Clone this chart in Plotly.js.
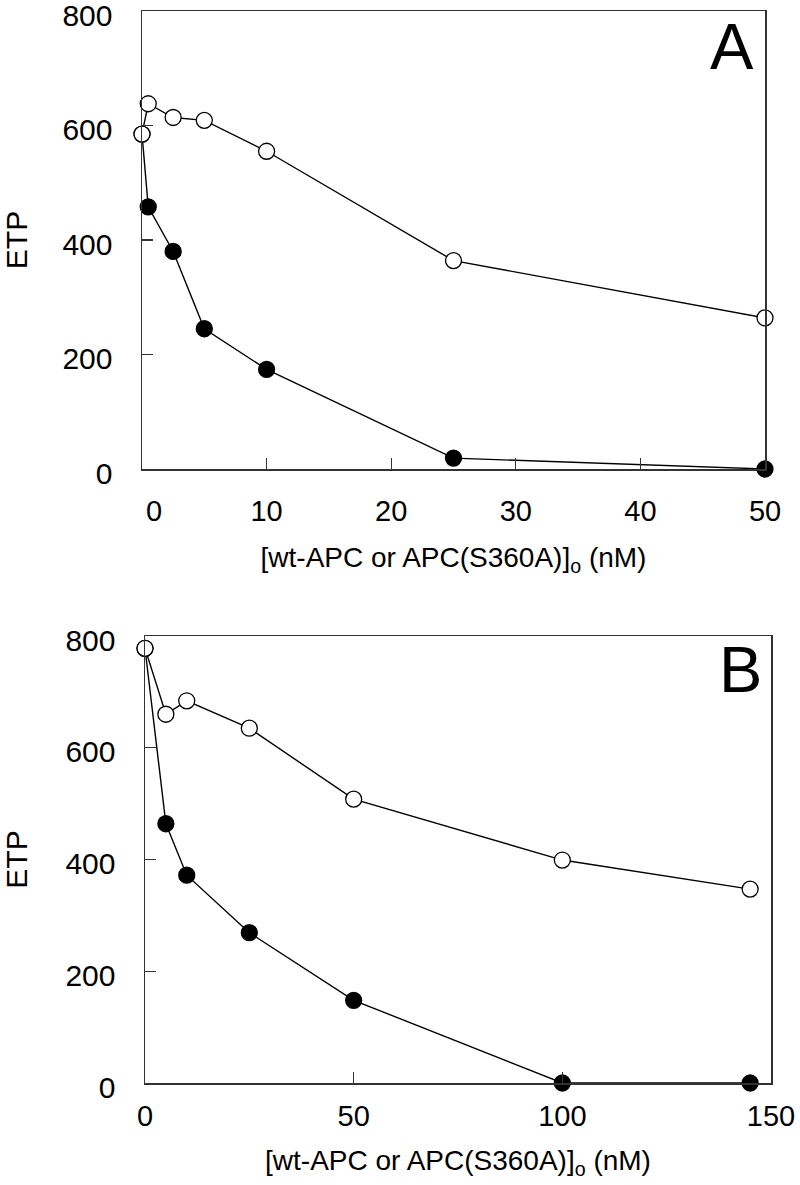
<!DOCTYPE html>
<html>
<head>
<meta charset="utf-8">
<script src="https://cdn.plot.ly/plotly-3.0.1.min.js"></script>
<style>html,body{margin:0;padding:0;background:#fff;}#chart{width:800px;height:1185px;}</style>
</head>
<body>
<div id="chart"></div>
<script>
// Panel A data
var xA = [0, 0.5, 2.5, 5, 10, 25, 50];
var openA = [585, 638, 614, 609, 555, 364, 264];
var filledA = [585, 458, 380, 245, 174, 19, 0];

// Panel B data
var xB = [0, 5, 10, 25, 50, 100, 145];
var openB = [778, 660, 684, 635, 508, 399, 347];
var filledB = [778, 464, 372, 269, 148, 0, 0];

var yTicks = [0, 200, 400, 600, 800];
var xTicksA = [0, 10, 20, 30, 40, 50];
var xTickTextA = ["\u00a0\u00a0\u00a00", "10", "20", "30", "40", "50"];
var xTicksB = [0, 50, 100, 150];
var xTickTextB = ["0", "50", "100", "150"];
var xTitle = "[wt-APC or APC(S360A)]<sub>o</sub> (nM)";
var yTitle = "ETP";
var panelLabels = ["A", "B"];

var FONT = "Liberation Sans, Arial, sans-serif";

function lineTrace(x, y, xa, ya, filled) {
  return {
    x: x, y: y, xaxis: xa, yaxis: ya,
    type: "scatter", mode: "lines+markers", cliponaxis: false,
    line: {color: "#000", width: 1.4},
    marker: {size: 16, color: filled ? "#000" : "#fff", line: {color: "#000", width: 1.3}},
    hoverinfo: "skip", showlegend: false
  };
}

var data = [
  lineTrace(xA, filledA, "x", "y", true),
  lineTrace(xA, openA, "x", "y", false),
  lineTrace(xB, filledB, "x2", "y2", true),
  lineTrace(xB, openB, "x2", "y2", false)
];

function xax(domain, range, ticks, text, anchor, lblOff, titleOff) {
  return {
    domain: domain, range: range, anchor: anchor,
    tickvals: ticks, ticktext: text,
    ticks: "inside", ticklen: 11, tickwidth: 1.3, tickcolor: "#333",
    showline: true, linecolor: "#333", linewidth: 1.5, mirror: true,
    showgrid: false, zeroline: false,
    tickfont: {family: FONT, size: 29, color: "#000"},
    ticklabelstandoff: lblOff, ticklabeloverflow: "allow",
    title: {text: xTitle, font: {family: FONT, size: 28, color: "#000"}, standoff: titleOff}
  };
}
function yax(domain, range, anchor) {
  return {
    domain: domain, range: range, anchor: anchor,
    tickvals: yTicks, ticktext: yTicks.map(String),
    ticks: "inside", ticklen: 11, tickwidth: 1.3, tickcolor: "#333",
    showline: true, linecolor: "#333", linewidth: 1.5, mirror: true,
    showgrid: false, zeroline: false,
    tickfont: {family: FONT, size: 30, color: "#000"},
    ticklabelstandoff: 22, ticklabelshift: 4, ticklabeloverflow: "allow",
    title: {text: yTitle, font: {family: FONT, size: 30, color: "#000"}, standoff: 37}
  };
}

var layout = {
  width: 800, height: 1185,
  margin: {l: 0, r: 0, t: 0, b: 0},
  paper_bgcolor: "#fff", plot_bgcolor: "#fff",
  xaxis: xax([142/800, 765/800], [0, 50], xTicksA, xTickTextA, "y", 16, 21),
  yaxis: yax([1 - 469/1185, 1 - 11/1185], [0, 800], "x"),
  xaxis2: xax([145/800, 771/800], [0, 150], xTicksB, xTickTextB, "y2", 7, 19),
  yaxis2: yax([1 - 1083/1185, 1 - 636/1185], [0, 800], "x2"),
  annotations: [
    {text: panelLabels[0], xref: "x domain", yref: "y domain", x: 0.947, y: 0.922,
     xanchor: "center", yanchor: "middle", showarrow: false,
     font: {family: FONT, size: 65, color: "#000"}},
    {text: panelLabels[1], xref: "x2 domain", yref: "y2 domain", x: 0.952, y: 0.925,
     xanchor: "center", yanchor: "middle", showarrow: false,
     font: {family: FONT, size: 65, color: "#000"}}
  ]
};

Plotly.newPlot("chart", data, layout, {staticPlot: true, displayModeBar: false});
</script>
</body>
</html>
